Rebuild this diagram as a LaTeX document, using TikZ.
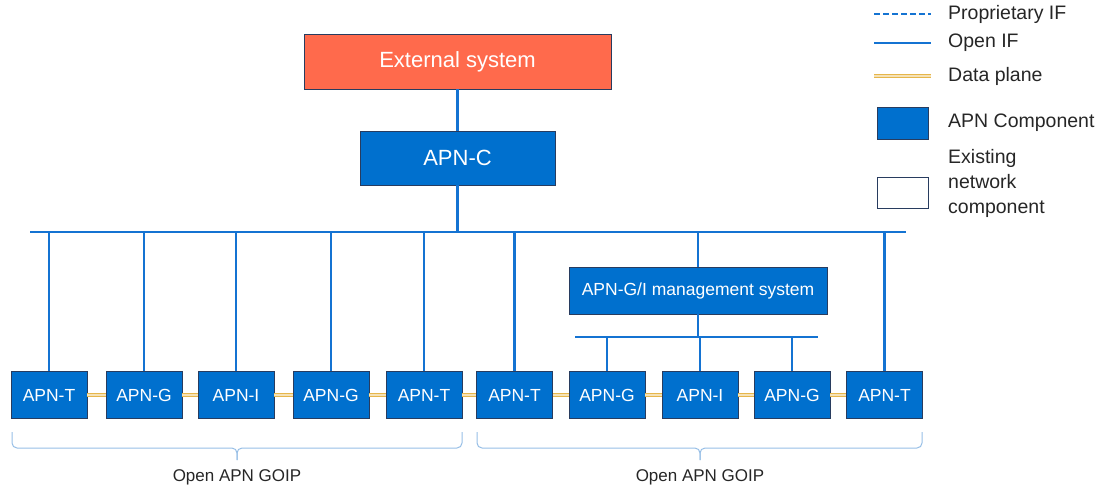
\documentclass[tikz,border=0pt]{standalone}
\usepackage{fontspec}
\setmainfont{Liberation Sans}
\definecolor{apnblue}{RGB}{0,112,206}
\definecolor{linkblue}{RGB}{20,115,210}
\definecolor{edgedark}{RGB}{40,60,95}
\definecolor{coral}{RGB}{255,106,76}
\definecolor{gold}{RGB}{230,182,75}
\definecolor{bracecol}{RGB}{150,190,230}
\begin{document}
\begin{tikzpicture}[x=1pt,y=-1pt,
  apn/.style={draw=edgedark,line width=0.9pt,fill=apnblue,text=white,inner sep=0pt,font=\fontsize{17.5}{19}\selectfont},
  unit/.style={apn,minimum width=76pt,minimum height=47pt},
  ext/.style={draw=edgedark,line width=0.9pt,fill=coral,text=white,inner sep=0pt,font=\fontsize{22}{24}\selectfont},
  openif/.style={draw=linkblue,line width=2.3pt},
  propif/.style={openif,dash pattern=on 6pt off 3pt},
  dataplane/.style={draw=gold,double=gold!40,line width=1.2pt,double distance=1.6pt},
  bracket/.style={draw=bracecol,line width=1pt,rounded corners=5pt},
  lab/.style={font=\fontsize{17}{19}\selectfont,text=black!85,inner sep=0pt},
  leg/.style={font=\fontsize{19.5}{25}\selectfont,text=black!85,inner sep=0pt,anchor=west,align=left}]
\useasboundingbox (0,0) rectangle (1108,491);

% top
\node[ext,minimum width=307pt,minimum height=55pt] (ext) at (457.5,61.5) {External system};
\node[apn,minimum width=195pt,minimum height=54pt,font=\fontsize{22}{24}\selectfont] (apnc) at (457.5,158) {APN-C};
\draw[openif] (ext) -- (apnc);

% bus
\coordinate (busL) at (30,232);
\coordinate (busR) at (906,232);
\coordinate (busC) at (457.5,232);
\draw[openif] (busL) -- (busR);
\draw[openif] (apnc) -- (busC);

% units
\foreach \n/\x/\t in {t1/49/APN-T, g1/144/APN-G, i1/236/APN-I, g2/331/APN-G, t2/424/APN-T,
                      t3/514.5/APN-T, g3/607/APN-G, i2/700/APN-I, g4/792/APN-G, t4/884.5/APN-T}
  \node[unit] (\n) at (\x,395) {\t};

% management
\node[apn,minimum width=258pt,minimum height=47pt] (mgmt) at (698,290.5) {APN-G/I management system};
\coordinate (sbL) at (575,337);
\coordinate (sbR) at (818,337);
\draw[openif] (sbL) -- (sbR);
\draw[openif] (mgmt.south) -- (mgmt.south |- sbL);
\draw[openif] (698,232) -- (mgmt.north);
\foreach \n in {g3,i2,g4}
  \draw[openif] (\n.north |- sbL) -- (\n.north);

% drops from main bus
\foreach \n in {t1,g1,i1,g2,t2,t3,t4}
  \draw[openif] (\n.north |- busL) -- (\n.north);

% data plane
\foreach \a/\b in {t1/g1,g1/i1,i1/g2,g2/t2,t2/t3,t3/g3,g3/i2,i2/g4,g4/t4}
  \draw[dataplane] (\a.east) -- (\b.west);

% brackets
\draw[bracket] (12,432) -- (12,448) -- (237,448) -- (237,460);
\draw[bracket] (462,432) -- (462,448) -- (237,448) -- (237,460);
\draw[bracket] (477,432) -- (477,448) -- (700,448) -- (700,460);
\draw[bracket] (922,432) -- (922,448) -- (700,448) -- (700,460);
\node[lab] (goip1) at (237,477) {Open APN GOIP};
\node[lab] (goip2) at (700,477) {Open APN GOIP};

% legend
\coordinate (l1a) at (874,14); \coordinate (l1b) at (931,14);
\draw[propif] (l1a) -- (l1b);
\node[leg] (lp) at (948,14) {Proprietary IF};
\coordinate (l2a) at (874,43); \coordinate (l2b) at (931,43);
\draw[openif] (l2a) -- (l2b);
\node[leg] (lo) at (948,43) {Open IF};
\coordinate (l3a) at (874,76); \coordinate (l3b) at (931,76);
\draw[dataplane] (l3a) -- (l3b);
\node[leg] (ld) at (948,76) {Data plane};
\node[draw=edgedark,line width=0.9pt,fill=apnblue,minimum width=51pt,minimum height=32pt,inner sep=0pt] (lbox1) at (902.5,123) {};
\node[leg] (lc) at (948,123) {APN Component};
\node[draw=edgedark,line width=0.9pt,fill=white,minimum width=51pt,minimum height=31pt,inner sep=0pt] (lbox2) at (902.5,192.5) {};
\node[leg] (le) at (948,183) {Existing\\network\\component};
\end{tikzpicture}
\end{document}
